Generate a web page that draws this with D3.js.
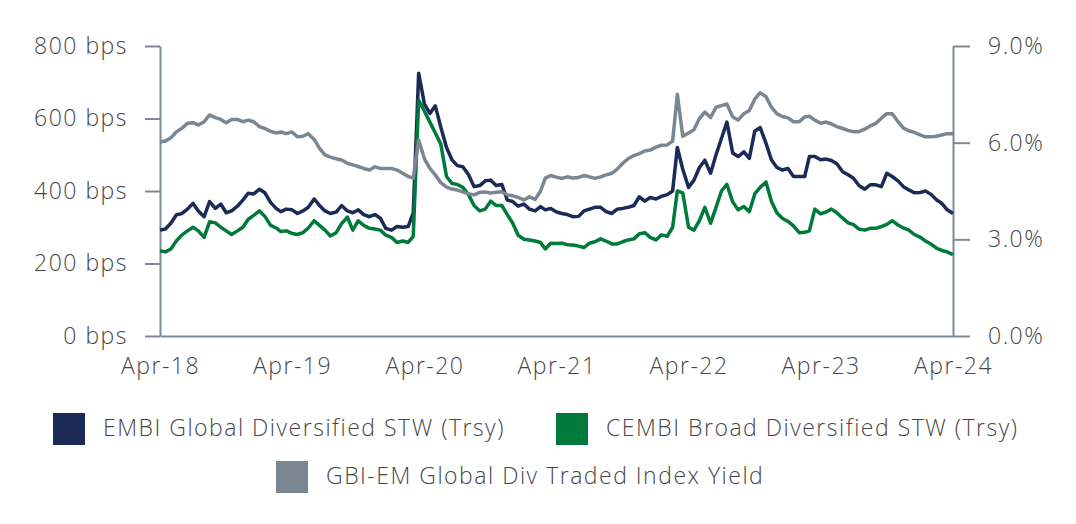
<!DOCTYPE html>
<html lang="en">
<head>
    <meta charset="UTF-8">
    <title>EM spreads and local yields, Apr-18 to Apr-24</title>
    <script src="https://d3js.org/d3.v7.min.js"></script>
    <style>
        body {
            margin: 0;
            background: #ffffff;
            font-family: "Open Sans", sans-serif;
        }

        .lbl {
            font-family: "Open Sans", sans-serif;
            font-size: 23px;
            font-weight: 300;
            fill: #474747;
            letter-spacing: 1.5px;
        }

        .axis path,
        .axis line {
            stroke: #7d8a96;
            stroke-width: 2;
        }
    </style>
</head>
<body>
    <svg id="chart" width="1076" height="524"></svg>

    <script>
        // half-month observations starting 1 Apr 2018
        let startDate = new Date(2018, 3, 1);

        let xTickLabels = ["Apr-18", "Apr-19", "Apr-20", "Apr-21", "Apr-22", "Apr-23", "Apr-24"];
        let leftTicks = [0, 200, 400, 600, 800];
        let rightTicks = [0, 3, 6, 9];

        // EMBI Global Diversified STW (Trsy), bps
        let embi = [
            292, 295, 311, 334, 338, 350, 366, 345, 329, 371,
            352, 364, 340, 345, 358, 375, 394, 392, 405, 395,
            368, 352, 343, 350, 348, 338, 345, 355, 378, 360,
            345, 338, 342, 360, 345, 340, 348, 335, 329, 335,
            325, 297, 292, 302, 300, 302, 340, 725, 640, 614,
            635, 577, 520, 486, 470, 467, 445, 412, 415, 428,
            430, 415, 418, 375, 371, 358, 364, 350, 345, 357,
            348, 352, 342, 338, 335, 329, 330, 345, 350, 355,
            355, 343, 338, 350, 352, 355, 360, 384, 372, 382,
            378, 385, 390, 400, 520, 460, 410, 430, 465, 485,
            449, 500, 545, 590, 505, 495, 508, 490, 565, 575,
            532, 486, 465, 458, 462, 440, 440, 440, 495, 495,
            486, 488, 484, 475, 453, 445, 435, 415, 405, 417,
            417, 412, 449, 440, 428, 412, 403, 395, 396, 400,
            390, 375, 366, 348, 338
        ];

        // CEMBI Broad Diversified STW (Trsy), bps
        let cembi = [
            235, 232, 240, 262, 279, 290, 300, 290, 272, 315,
            312, 300, 290, 280, 290, 300, 322, 333, 345, 330,
            305, 298, 288, 290, 283, 280, 285, 298, 318, 305,
            292, 276, 285, 310, 328, 292, 318, 305, 297, 295,
            292, 278, 272, 258, 262, 258, 275, 651, 620, 590,
            560, 530, 440, 421, 418, 410, 390, 360, 345, 350,
            372, 360, 360, 335, 311, 278, 267, 265, 262, 258,
            240, 256, 255, 256, 252, 251, 248, 244, 256, 260,
            268, 262, 254, 254, 260, 265, 268, 282, 285, 272,
            265, 279, 275, 300, 400, 395, 300, 292, 318, 355,
            311, 355, 400, 418, 370, 348, 357, 343, 392, 410,
            425, 372, 340, 325, 316, 304, 285, 286, 290, 350,
            337, 342, 350, 340, 325, 312, 307, 295, 292, 297,
            297, 302, 308, 318, 306, 298, 292, 280, 273, 262,
            253, 242, 236, 232, 224
        ];

        // GBI-EM Global Div Traded Index Yield, %
        let gbiYield = [
            6.02, 6.05, 6.15, 6.33, 6.45, 6.60, 6.62, 6.55, 6.65, 6.86,
            6.78, 6.72, 6.62, 6.72, 6.72, 6.65, 6.70, 6.65, 6.50, 6.44,
            6.35, 6.30, 6.33, 6.28, 6.33, 6.18, 6.20, 6.28, 6.10, 5.82,
            5.62, 5.55, 5.50, 5.46, 5.36, 5.31, 5.26, 5.20, 5.15, 5.25,
            5.20, 5.20, 5.20, 5.15, 5.05, 4.95, 4.90, 6.08, 5.50, 5.20,
            5.00, 4.76, 4.62, 4.56, 4.53, 4.47, 4.42, 4.38, 4.46, 4.47,
            4.44, 4.46, 4.48, 4.38, 4.35, 4.30, 4.22, 4.32, 4.24, 4.50,
            4.90, 4.98, 4.93, 4.89, 4.94, 4.90, 4.92, 4.98, 4.94, 4.89,
            4.94, 5.00, 5.05, 5.18, 5.36, 5.50, 5.60, 5.66, 5.74, 5.77,
            5.86, 5.92, 5.93, 6.05, 7.50, 6.20, 6.30, 6.40, 6.75, 6.95,
            6.78, 7.10, 7.15, 7.20, 6.80, 6.70, 6.90, 7.00, 7.35, 7.55,
            7.43, 7.10, 6.90, 6.81, 6.77, 6.65, 6.65, 6.80, 6.82, 6.70,
            6.60, 6.64, 6.58, 6.50, 6.44, 6.38, 6.34, 6.34, 6.42, 6.52,
            6.60, 6.76, 6.90, 6.90, 6.65, 6.45, 6.37, 6.32, 6.24, 6.18,
            6.18, 6.20, 6.24, 6.28, 6.28
        ];

        let seriesNames = ["EMBI Global Diversified STW (Trsy)", "CEMBI Broad Diversified STW (Trsy)", "GBI-EM Global Div Traded Index Yield"];
        let seriesColors = ["#1b2a57", "#007a3a", "#7a8793"];

        let dates = embi.map((v, i) => d3.timeDay.offset(d3.timeMonth.offset(startDate, Math.floor(i / 2)), (i % 2) * 15));

        let svg = d3.select("#chart");

        let x = d3.scaleTime()
            .domain([new Date(2018, 3, 1), new Date(2024, 3, 1)])
            .range([160, 953]);

        let yLeft = d3.scaleLinear().domain([0, 800]).range([336, 46]);
        let yRight = d3.scaleLinear().domain([0, 9]).range([336, 46]);

        let fmtMonth = d3.timeFormat("%b-%y");
        let xTicks = d3.timeYear.every(1).range(new Date(2018, 0, 1), new Date(2025, 0, 1))
            .map(d => d3.timeMonth.offset(d, 3))
            .filter(d => xTickLabels.includes(fmtMonth(d)));

        // x axis (baseline only, labels)
        svg.append("g")
            .attr("class", "axis x-axis")
            .attr("transform", "translate(0,336)")
            .call(d3.axisBottom(x).tickValues(xTicks).tickSize(0).tickSizeOuter(0).tickPadding(22).tickFormat(fmtMonth));

        svg.append("g")
            .attr("class", "axis y-axis")
            .attr("transform", "translate(160,0)")
            .call(d3.axisLeft(yLeft).tickValues(leftTicks).tickSize(15).tickSizeOuter(0).tickPadding(17)
                .tickFormat(d => d + " bps"));

        svg.append("g")
            .attr("class", "axis y2-axis")
            .attr("transform", "translate(953,0)")
            .call(d3.axisRight(yRight).tickValues(rightTicks).tickSize(17).tickSizeOuter(0).tickPadding(18)
                .tickFormat(d => d3.format(".1f")(d) + "%"));

        svg.selectAll(".axis text")
            .attr("class", "lbl")
            .attr("font-size", null)
            .attr("font-family", null);

        let series = [embi, cembi, gbiYield];
        let scales = [yLeft, yLeft, yRight];

        series.forEach((vals, s) => {
            let line = d3.line()
                .x((v, i) => x(dates[i]))
                .y(v => scales[s](v));

            svg.append("path")
                .datum(vals)
                .attr("d", line)
                .attr("fill", "none")
                .attr("stroke", seriesColors[s])
                .attr("stroke-width", 3.5)
                .attr("stroke-linejoin", "round");
        });

        // legend
        let legendPos = [[53, 413], [556, 413], [276, 461]];
        seriesNames.forEach((name, i) => {
            let g = svg.append("g")
                .attr("transform", "translate(" + legendPos[i][0] + "," + legendPos[i][1] + ")");
            g.append("rect")
                .attr("width", 32)
                .attr("height", 32)
                .attr("fill", seriesColors[i]);
            g.append("text")
                .attr("class", "lbl")
                .attr("x", 50)
                .attr("y", 23)
                .text(name);
        });
    </script>
</body>
</html>
